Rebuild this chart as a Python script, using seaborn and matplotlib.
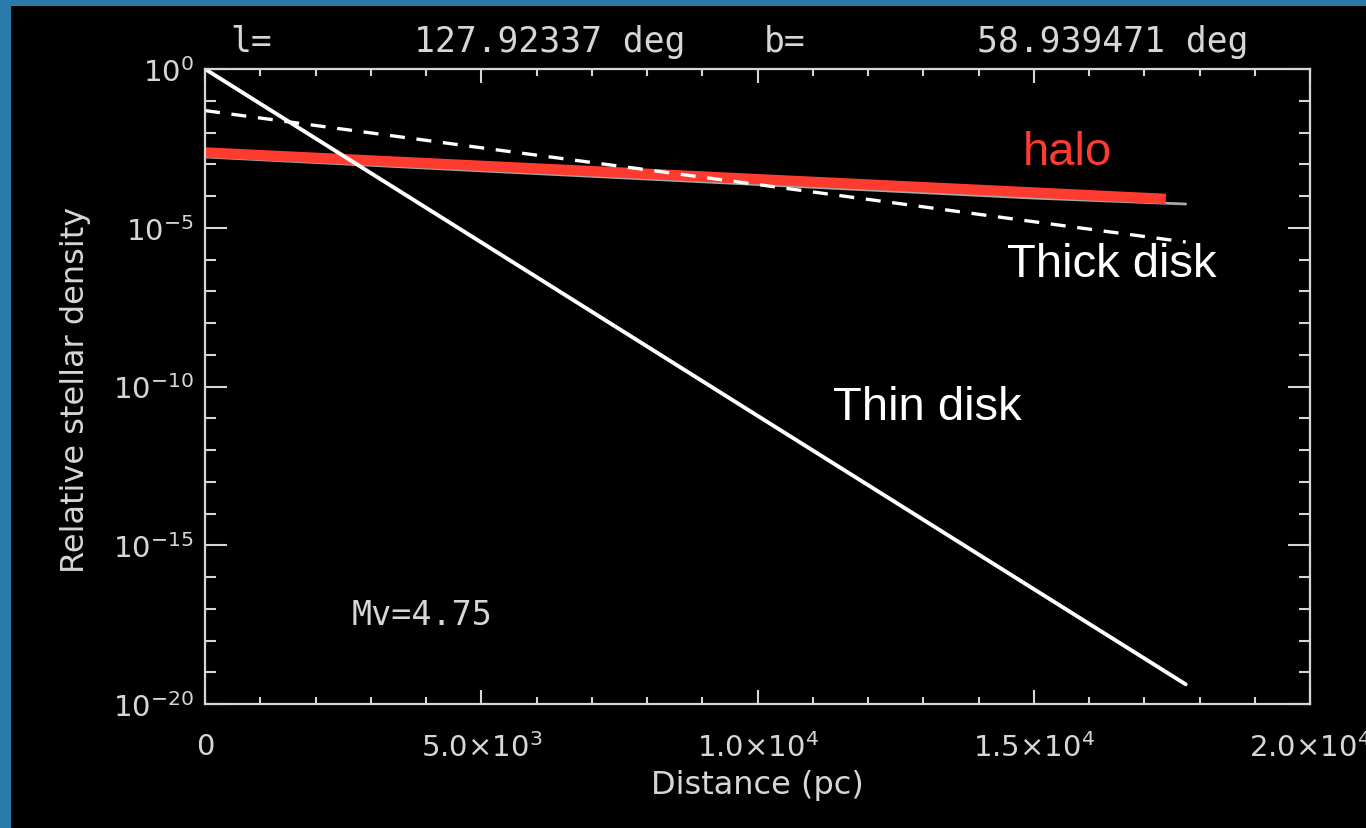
import matplotlib
matplotlib.use("Agg")
import matplotlib.pyplot as plt
from matplotlib.patches import Rectangle
import seaborn as sns
import pandas as pd

# ---- data ----
thin_dist = [0, 2500, 5000, 7500, 10000, 12500, 15000, 17750]
thin_dens = [1.0, 1.86e-3, 3.47e-6, 6.46e-9, 1.2e-11, 2.24e-14, 4.17e-17, 4.17e-20]

thick_dist = [0, 5000, 10000, 15000, 17750]
thick_dens = [4.9e-2, 3.3e-3, 2.3e-4, 1.55e-5, 3.55e-6]

halo_dist = [0, 5000, 10000, 15000, 17750]
halo_dens = [1.7e-3, 6.2e-4, 2.3e-4, 8.6e-5, 5.6e-5]

halo_hl_dist = [0, 17390]
halo_hl_dens = [2.35e-3, 8.1e-5]

x_ticks = [0, 5000, 10000, 15000, 20000]
x_labels = ["0", r"$5.0{\times}10^{3}$", r"$1.0{\times}10^{4}$",
            r"$1.5{\times}10^{4}$", r"$2.0{\times}10^{4}$"]
y_ticks = [1e0, 1e-5, 1e-10, 1e-15, 1e-20]
y_labels = [r"$10^{0}$", r"$10^{-5}$", r"$10^{-10}$", r"$10^{-15}$", r"$10^{-20}$"]

title_l = "l="
title_lval = "127.92337 deg"
title_b = "b="
title_bval = "58.939471 deg"

# ---- styling ----
sns.set_style("ticks")
plt.rcParams["font.family"] = ["DejaVu Sans"]
plt.rcParams["mathtext.fontset"] = "dejavusans"

FG = "#d6d6d6"
W, H = 1366, 829
fig = plt.figure(figsize=(W / 100, H / 100), dpi=100)
fig.patch.set_facecolor("#2a7aaa")
fig.add_artist(Rectangle((11 / W, 0), 1 - 11 / W, 1 - 7 / H,
                         transform=fig.transFigure, facecolor="black",
                         edgecolor="none", zorder=0))

ax = fig.add_axes([205 / W, (H - 705) / H, 1105 / W, 635 / H])
ax.set_facecolor("black")

df_thin = pd.DataFrame({"d": thin_dist, "rho": thin_dens})
df_thick = pd.DataFrame({"d": thick_dist, "rho": thick_dens})
df_halo = pd.DataFrame({"d": halo_dist, "rho": halo_dens})
df_hl = pd.DataFrame({"d": halo_hl_dist, "rho": halo_hl_dens})

sns.lineplot(data=df_halo, x="d", y="rho", ax=ax, color="#a8a8a8", lw=2.0)
sns.lineplot(data=df_hl, x="d", y="rho", ax=ax, color="#fe3b2f", lw=7.5,
             solid_capstyle="butt")
sns.lineplot(data=df_thick, x="d", y="rho", ax=ax, color="white", lw=2.4,
             dashes=False, linestyle=(0, (4.5, 3.5)))
sns.lineplot(data=df_thin, x="d", y="rho", ax=ax, color="white", lw=2.8)

ax.set_yscale("log")
ax.set_xlim(0, 20000)
ax.set_ylim(1e-20, 1e0)

ax.set_xticks(x_ticks)
ax.set_xticklabels(x_labels)
ax.set_xticks(range(0, 20001, 1000), minor=True)
ax.set_yticks(y_ticks)
ax.set_yticklabels(y_labels)
ax.set_yticks([10.0 ** (-k) for k in range(0, 21)], minor=True)
ax.yaxis.set_minor_formatter(matplotlib.ticker.NullFormatter())

ax.tick_params(axis="x", which="major", direction="in", length=10, width=1.5,
               color=FG, labelcolor=FG, labelsize=21, pad=20,
               top=True, bottom=True)
ax.tick_params(axis="x", which="minor", direction="in", length=5, width=1.5,
               color=FG, top=True, bottom=True)
ax.tick_params(axis="y", which="major", direction="in", length=16, width=1.5,
               color=FG, labelcolor=FG, labelsize=21, pad=8,
               left=True, right=True)
ax.tick_params(axis="y", which="minor", direction="in", length=8, width=1.5,
               color=FG, left=True, right=True)
for s in ax.spines.values():
    s.set_color(FG)
    s.set_linewidth(1.6)
    s.set_visible(True)

ax.set_xlabel("Distance (pc)", color=FG, fontsize=23, va="center")
ax.xaxis.set_label_coords(0.4995, -0.126)
ax.set_ylabel("Relative stellar density", color=FG, fontsize=23, va="center")
ax.yaxis.set_label_coords(-0.1176, 0.496)

# title pieces (IDL-like wide monospace text)
for txt, px in [(title_l, 230), (title_lval, 414), (title_b, 764), (title_bval, 977)]:
    fig.text(px / W, 1 - 42 / H, txt, color=FG, fontsize=25,
             family="DejaVu Sans Mono", ha="left", va="center")

ax.text(2660, 10 ** -17.17, "Mv=4.75", color=FG, fontsize=24,
        family="DejaVu Sans Mono", ha="left", va="center")

ax.text(15600, 10 ** -2.61, "halo", color="#fe3b2f", fontsize=34,
        family="Liberation Sans", ha="center", va="center")
ax.text(16420, 10 ** -6.14, "Thick disk", color="white", fontsize=34,
        family="Liberation Sans", ha="center", va="center")
ax.text(13070, 10 ** -10.65, "Thin disk", color="white", fontsize=34,
        family="Liberation Sans", ha="center", va="center")

fig.savefig("out.png", dpi=100, facecolor=fig.get_facecolor())
